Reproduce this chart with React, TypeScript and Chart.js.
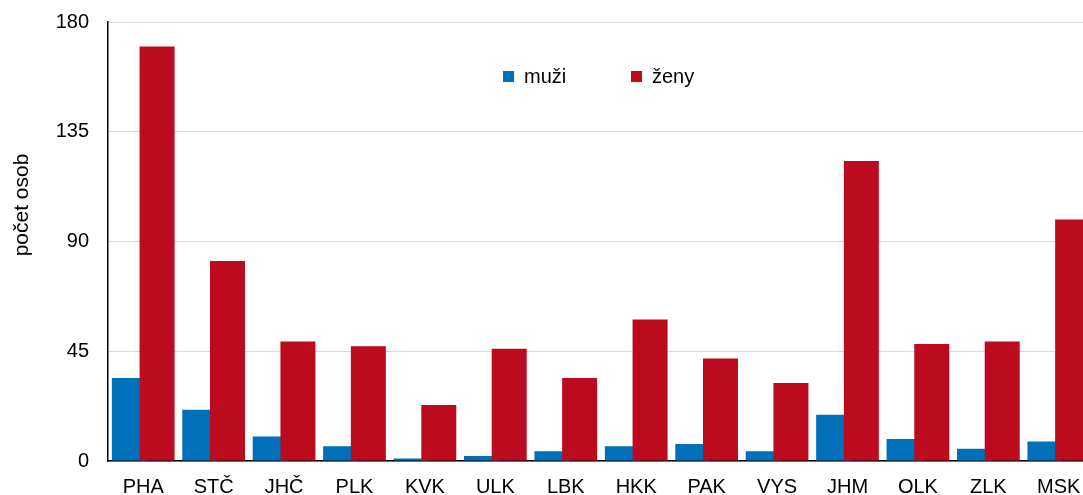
import React, { useEffect, useRef } from 'react';
import { Chart, registerables } from 'chart.js';

Chart.register(...registerables);

const categories = ['PHA', 'STČ', 'JHČ', 'PLK', 'KVK', 'ULK', 'LBK', 'HKK', 'PAK', 'VYS', 'JHM', 'OLK', 'ZLK', 'MSK'];
const muzi = [34, 21, 10, 6, 1, 2, 4, 6, 7, 4, 19, 9, 5, 8];
const zeny = [170, 82, 49, 47, 23, 46, 34, 58, 42, 32, 123, 48, 49, 99];
const yTicks = [0, 45, 90, 135, 180];
const seriesLabels = ['muži', 'ženy'];
const yTitle = 'počet osob';

const BLUE = '#0070bb';
const RED = '#bc0b1f';
const FONT = "'Liberation Sans', Arial, sans-serif";

const overlayPlugin = {
  id: 'overlay',
  beforeDatasetsDraw(chart: any) {
    // draw blue first, red on top (overlapping bars)
    const ctx = chart.ctx;
    const a = chart.chartArea;
    ctx.save();
    ctx.beginPath();
    ctx.rect(a.left, a.top, a.right - a.left, a.bottom - a.top);
    ctx.clip();
    [0, 1].forEach((i) => chart.getDatasetMeta(i).controller.draw());
    ctx.restore();
    return false;
  },
  afterDraw(chart: any) {
    const ctx = chart.ctx;
    ctx.save();
    ctx.font = `20px ${FONT}`;
    ctx.textBaseline = 'middle';
    ctx.textAlign = 'left';
    const xs = [503, 631];
    chart.data.datasets.forEach((ds: any, i: number) => {
      ctx.fillStyle = ds.backgroundColor;
      ctx.fillRect(xs[i], 71, 11, 11);
      ctx.fillStyle = '#000';
      ctx.fillText(ds.label, xs[i] + 21, 77);
    });
    ctx.font = `21px ${FONT}`;
    ctx.translate(22, 205);
    ctx.rotate(-Math.PI / 2);
    ctx.textAlign = 'center';
    ctx.fillText(yTitle, 0, 0);
    ctx.restore();
  },
};

export default function App() {
  const ref = useRef<HTMLCanvasElement>(null);
  useEffect(() => {
    document.body.style.margin = '0';
    const chart = new Chart(ref.current!, {
      type: 'bar',
      data: {
        labels: categories,
        datasets: [
          { label: seriesLabels[0], data: muzi, backgroundColor: BLUE },
          { label: seriesLabels[1], data: zeny, backgroundColor: RED },
        ],
      },
      options: {
        animation: false,
        responsive: false,
        maintainAspectRatio: false,
        datasets: { bar: { categoryPercentage: 0.787, barPercentage: 1.263 } },
        layout: { padding: { top: 22, left: 0, right: 0, bottom: 0 } },
        plugins: { legend: { display: false }, tooltip: { enabled: false } },
        scales: {
          x: {
            grid: { display: false, drawTicks: false },
            border: { color: '#000', width: 1.5 },
            ticks: { color: '#000', font: { family: FONT, size: 20 }, padding: 14, maxRotation: 0, autoSkip: false },
            afterFit: (s: any) => { s.height = 34; s.paddingLeft = 0; s.paddingRight = 0; },
          },
          y: {
            min: 0,
            max: 180,
            afterBuildTicks: (s: any) => { s.ticks = yTicks.map((v) => ({ value: v })); },
            grid: { color: '#d9d9d9', lineWidth: 1, drawTicks: false },
            border: { color: '#000', width: 1.5 },
            ticks: { color: '#000', font: { family: FONT, size: 20 }, padding: 19 },
            afterFit: (s: any) => { s.width = 108; s.paddingTop = 0; s.paddingBottom = 0; },
          },
        },
      },
      plugins: [overlayPlugin],
    });
    return () => chart.destroy();
  }, []);
  return (
    <div style={{ position: 'fixed', left: 0, top: 0, width: 1083, height: 495, overflow: 'hidden', background: '#fff' }}>
      <canvas ref={ref} width={1094} height={495} />
    </div>
  );
}
